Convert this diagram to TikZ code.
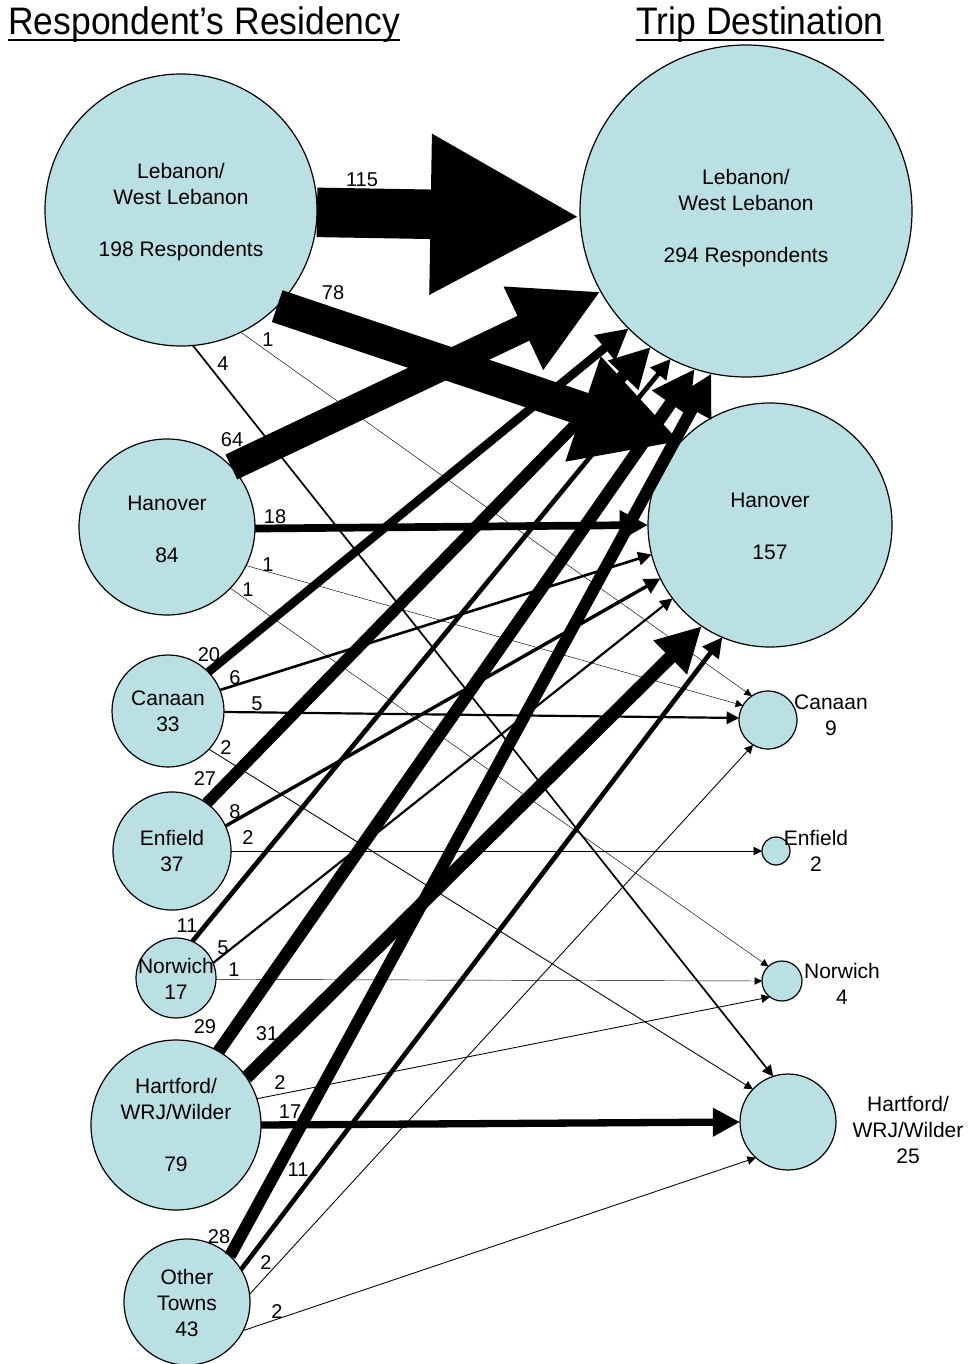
\documentclass[tikz,border=0pt]{standalone}
\usepackage{fontspec}
\setmainfont{Liberation Sans}
\usetikzlibrary{arrows.meta}
\definecolor{cfill}{RGB}{187,224,227}
\newcommand\myul[1]{\setbox0\hbox{#1}\rlap{\rule[-5.5pt]{\wd0}{1.8pt}}\box0}
\begin{document}
\begin{tikzpicture}[x=1pt,y=-1pt,
  town/.style={circle,draw,line width=1.2pt,fill=cfill,inner sep=0pt,outer sep=0pt,minimum size=#1},
  txt/.style={font=\fontsize{21}{26}\selectfont,align=center,inner sep=0pt},
  num/.style={font=\fontsize{20}{24}\selectfont,inner sep=0pt},
  ttl/.style={font=\fontsize{35.5}{40}\selectfont,inner sep=0pt,yscale=1.08,transform shape},
  flow/.style={line width=#1,-{Triangle[length=6pt 2.9,width=6pt 2.9]}}
]
\useasboundingbox (0,0) rectangle (973,1364);

% titles
\node[ttl,anchor=base west] (t1) at (8,35) {\myul{Respondent’s Residency}};
\node[ttl,anchor=base] (t2) at (760,35) {\myul{Trip Destination}};

% origin circles
\node[town=272pt] (LebO) at (181,210) {};
\node[town=176pt] (HanO) at (167,527) {};
\node[town=112pt] (CanO) at (168,711) {};
\node[town=118pt] (EnfO) at (172,851) {};
\node[town=80pt]  (NorO) at (176,978) {};
\node[town=170pt] (HarO) at (176,1125) {};
\node[town=126pt] (OthO) at (187,1302) {};
% destination circles
\node[town=332pt] (LebD) at (746,211) {};
\node[town=244pt] (HanD) at (770,525) {};
\node[town=58pt]  (CanD) at (768,720) {};
\node[town=28pt]  (EnfD) at (776,851) {};
\node[town=40pt]  (NorD) at (782,981) {};
\node[town=96pt]  (HarD) at (788,1122) {};

% flows from Lebanon
\draw[flow=49.5pt] (LebO.-1) -- (LebD.182);
\draw[flow=33.5pt] (LebO.-45) -- (HanD.137.7);
\draw[flow=0.45pt] (LebO.-64) -- (CanD.124.6);
\draw[flow=1.7pt] (LebO.-85) -- (HarD.108);
% from Hanover
\draw[flow=27.5pt] (HanO.43) -- (LebD.209);
\draw[flow=7.7pt] (HanO.-1) -- (HanD.180);
\draw[flow=0.45pt] (HanO.-26) -- (CanD.150.5);
\draw[flow=0.45pt] (HanO.-44) -- (NorD.133);
% from Canaan
\draw[flow=8.6pt] (CanO.44) -- (LebD.225.5);
\draw[flow=2.6pt] (CanO.22) -- (HanD.194.6);
\draw[flow=2.2pt] (CanO.-1) -- (CanD.176);
\draw[flow=0.86pt] (CanO.-43) -- (HarD.137.4);
% from Enfield
\draw[flow=11.6pt] (EnfO.54) -- (LebD.235);
\draw[flow=3.4pt] (EnfO.25) -- (HanD.206.2);
\draw[flow=0.86pt] (EnfO.0) -- (EnfD.180);
% from Norwich
\draw[flow=4.7pt] (NorO.66) -- (LebD.243.7);
\draw[flow=2.2pt] (NorO.22) -- (HanD.217.4);
\draw[flow=0.45pt] (NorO.-2) -- (NorD.180);
% from Hartford
\draw[flow=12.5pt] (HarO.60) -- (LebD.252.3);
\draw[flow=13.3pt] (HarO.34) -- (HanD.236.2);
\draw[flow=0.86pt] (HarO.18) -- (NorD.233);
\draw[flow=7.3pt] (HarO.0) -- (HarD.180);
% from Other Towns
\draw[flow=12pt] (OthO.47) -- (LebD.258.8);
\draw[flow=4.7pt] (OthO.31) -- (HanD.247.2);
\draw[flow=0.86pt] (OthO.7) -- (CanD.239);
\draw[flow=0.86pt] (OthO.-27) -- (HarD.228);

% circle texts
\node[txt] (xLebO) at (181,212) {Lebanon/\\West Lebanon\\[26pt]198 Respondents};
\node[txt] (xHanO) at (167,529) {Hanover\\[26pt]84};
\node[txt] (xCanO) at (168,711) {Canaan\\33};
\node[txt] (xEnfO) at (172,851) {Enfield\\37};
\node[txt] (xNorO) at (176,979) {Norwich\\17};
\node[txt] (xHarO) at (176,1125) {Hartford/\\WRJ/Wilder\\[26pt]79};
\node[txt] (xOthO) at (187,1303) {Other\\Towns\\43};
\node[txt] (xLebD) at (746,218) {Lebanon/\\West Lebanon\\[26pt]294 Respondents};
\node[txt] (xHanD) at (770,526) {Hanover\\[26pt]157};
\node[txt] (xCanD) at (831,715) {Canaan\\9};
\node[txt] (xEnfD) at (816,851) {Enfield\\2};
\node[txt] (xNorD) at (842,984) {Norwich\\4};
\node[txt] (xHarD) at (908,1130) {Hartford/\\WRJ/Wilder\\25};

% flow labels
\node[num] (n115) at (362,180) {115};
\node[num] (n78) at (333,293) {78};
\node[num] (n1a) at (268,340) {1};
\node[num] (n4) at (223,364) {4};
\node[num] (n64) at (232,440) {64};
\node[num] (n18) at (275,517) {18};
\node[num] (n1b) at (268,565) {1};
\node[num] (n1c) at (248,590) {1};
\node[num] (n20) at (209,655) {20};
\node[num] (n6) at (235,678) {6};
\node[num] (n5a) at (257,704) {5};
\node[num] (n2a) at (226,748) {2};
\node[num] (n27) at (205,779) {27};
\node[num] (n8) at (235,812) {8};
\node[num] (n2b) at (248,838) {2};
\node[num] (n11a) at (187,926) {11};
\node[num] (n5b) at (223,948) {5};
\node[num] (n1d) at (234,970) {1};
\node[num] (n29) at (205,1027) {29};
\node[num] (n31) at (267,1034) {31};
\node[num] (n2c) at (280,1083) {2};
\node[num] (n17) at (290,1112) {17};
\node[num] (n11b) at (298,1170) {11};
\node[num] (n28) at (219,1237) {28};
\node[num] (n2d) at (266,1263) {2};
\node[num] (n2e) at (277,1312) {2};
\end{tikzpicture}
\end{document}
